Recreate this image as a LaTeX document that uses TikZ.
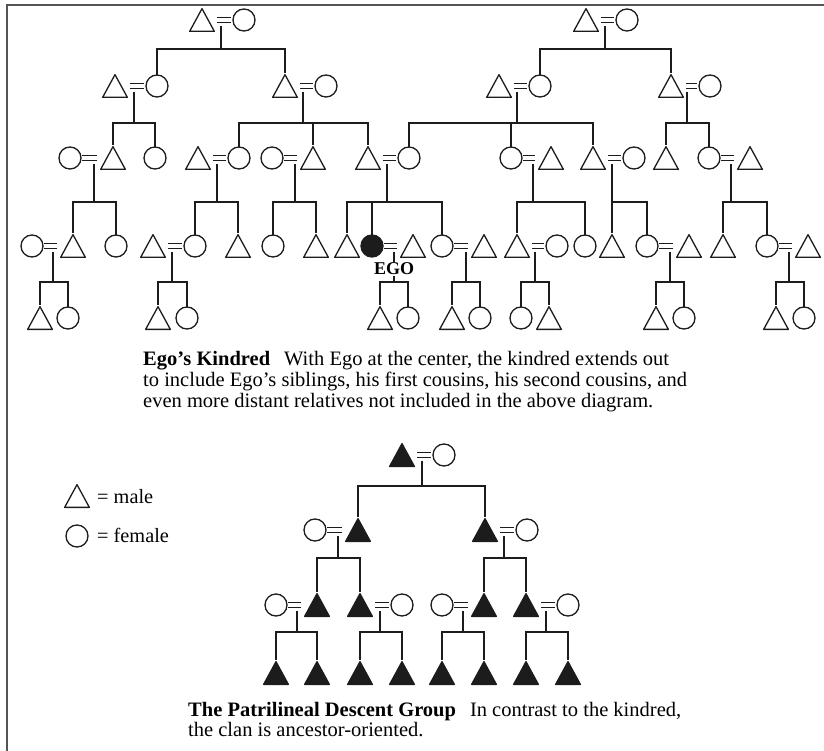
\documentclass[tikz,border=0pt]{standalone}
\usepackage{fontspec}
\setmainfont{Liberation Serif}
\usetikzlibrary{calc}
\definecolor{ink}{HTML}{1C1C1C}
\definecolor{rule}{HTML}{555555}
\newcommand\wed[2]{%
  \draw[wedline] ([yshift=2.1pt]#1.east) -- ([yshift=2.1pt]#2.west);
  \draw[wedline] ([yshift=-2.1pt]#1.east) -- ([yshift=-2.1pt]#2.west);}
\begin{document}
\begin{tikzpicture}[x=1pt,y=-1pt,
  kinline/.style={draw=ink, line width=1.25pt},
  wedline/.style={draw=ink, line width=1.15pt, shorten <=1pt, shorten >=2pt},
  fem/.style={circle, draw=ink, line width=1.3pt, minimum size=22pt, inner sep=0pt, outer sep=0pt},
  femx/.style={fem, fill=ink},
  mal/.style={rectangle, minimum width=28pt, minimum height=26pt, inner sep=0pt, outer sep=0pt,
    path picture={\draw[draw=ink, line width=1.3pt, line join=round]
      ([xshift=1.65pt,yshift=1.65pt]path picture bounding box.south west) --
      ([yshift=-1.65pt]path picture bounding box.north) --
      ([xshift=-1.65pt,yshift=1.65pt]path picture bounding box.south east) -- cycle;}},
  malx/.style={rectangle, minimum width=28pt, minimum height=26pt, inner sep=0pt, outer sep=0pt,
    path picture={\draw[draw=ink, fill=ink, line width=1.3pt, line join=round]
      ([xshift=1.65pt,yshift=1.65pt]path picture bounding box.south west) --
      ([yshift=-1.65pt]path picture bounding box.north) --
      ([xshift=-1.65pt,yshift=1.65pt]path picture bounding box.south east) -- cycle;}},
  captext/.style={inner sep=0pt, anchor=base west, font=\fontsize{20.5}{21}\selectfont},
  legtext/.style={inner sep=0pt, anchor=base west, font=\fontsize{20.3}{21}\selectfont},
]
\useasboundingbox (0,0) rectangle (824,751);
% frame
\draw[rule, line width=2pt] (6.5,751) -- (6.5,5.5) -- (824,5.5);

% ---------------- kindred: generation 1
\node[mal] (a1) at (202,20) {};  \node[fem] (a2) at (244,20) {};
\node[mal] (b1) at (586,20) {};  \node[fem] (b2) at (627,20) {};
% generation 2
\node[mal] (c1) at (115,86) {};  \node[fem] (c2) at (157,86) {};
\node[mal] (d1) at (285,86) {};  \node[fem] (d2) at (326,86) {};
\node[mal] (e1) at (499,86) {};  \node[fem] (e2) at (540,86) {};
\node[mal] (f1) at (671,86) {};  \node[fem] (f2) at (710,86) {};
% generation 3
\node[fem] (g1) at (70,158) {};  \node[mal] (g2) at (113,158) {};
\node[fem] (g3) at (155,158) {};
\node[mal] (h1) at (198,158) {}; \node[fem] (h2) at (239,158) {};
\node[fem] (i1) at (272,158) {}; \node[mal] (i2) at (313,158) {};
\node[mal] (k1) at (368,158) {}; \node[fem] (k2) at (409,158) {};
\node[fem] (l1) at (511,158) {}; \node[mal] (l2) at (551,158) {};
\node[mal] (m1) at (593,158) {}; \node[fem] (m2) at (634,158) {};
\node[mal] (m3) at (666,158) {};
\node[fem] (n1) at (709,158) {}; \node[mal] (n2) at (750,158) {};
% generation 4 (Ego's)
\node[fem] (p1) at (32,246) {};   \node[mal] (p2) at (73,246) {};
\node[fem] (p3) at (116,246) {};
\node[mal] (p4) at (153,246) {};  \node[fem] (p5) at (195,246) {};
\node[mal] (p6) at (238,246) {};
\node[fem] (p7) at (273,246) {};
\node[mal] (p8) at (316,246) {};
\node[mal] (p9) at (347,246) {};
\node[femx] (p10) at (372,246) {}; \node[mal] (p11) at (413,246) {};
\node[fem] (p12) at (442,246) {}; \node[mal] (p13) at (484,246) {};
\node[mal] (p14) at (517,246) {}; \node[fem] (p15) at (557,246) {};
\node[fem] (p16) at (585,246) {};
\node[mal] (p17) at (612,246) {};
\node[fem] (p18) at (647,246) {}; \node[mal] (p19) at (689,246) {};
\node[mal] (p20) at (723,246) {};
\node[fem] (p21) at (767,246) {}; \node[mal] (p22) at (808,246) {};
% generation 5
\node[mal] (s1) at (40,318) {};   \node[fem] (s2) at (68,318) {};
\node[mal] (s3) at (158,318) {};  \node[fem] (s4) at (187,318) {};
\node[mal] (s5) at (380,318) {};  \node[fem] (s6) at (408,318) {};
\node[mal] (s7) at (452,318) {};  \node[fem] (s8) at (480,318) {};
\node[fem] (s9) at (521,318) {};  \node[mal] (s10) at (549,318) {};
\node[mal] (s11) at (656,318) {}; \node[fem] (s12) at (684,318) {};
\node[mal] (s13) at (776,318) {}; \node[fem] (s14) at (804,318) {};

% marriages
\wed{a1}{a2} \wed{b1}{b2}
\wed{c1}{c2} \wed{d1}{d2} \wed{e1}{e2} \wed{f1}{f2}
\wed{g1}{g2} \wed{h1}{h2} \wed{i1}{i2} \wed{k1}{k2} \wed{l1}{l2} \wed{m1}{m2} \wed{n1}{n2}
\wed{p1}{p2} \wed{p4}{p5} \wed{p10}{p11} \wed{p12}{p13} \wed{p14}{p15} \wed{p18}{p19} \wed{p21}{p22}

% descent junctions
\coordinate (ja) at (221,49);  \coordinate (jb) at (605,49);
\coordinate (jc) at (134,123); \coordinate (jd) at (303,123);
\coordinate (je) at (517,123); \coordinate (jf) at (687,123);
\coordinate (jg) at (94,202);  \coordinate (jh) at (217,202);
\coordinate (ji) at (295,202); \coordinate (jk) at (387,202);
\coordinate (jl) at (533,202); \coordinate (jm) at (612,202);
\coordinate (jn) at (731,202);
\coordinate (jp) at (53,282);  \coordinate (jq) at (172,282);
\coordinate (jr) at (394,282); \coordinate (js) at (466,282);
\coordinate (jt) at (535,282); \coordinate (ju) at (670,282);
\coordinate (jv) at (789,282);

% drops from each couple
\foreach \j/\c in {ja/a1, jb/b1, jc/c1, jd/d1, je/e1, jf/f1, jg/g1, jh/h1, ji/i1,
                   jk/k1, jl/l1, jm/m1, jn/n1, jp/p1, jq/p4, jr/p10, js/p12,
                   jt/p14, ju/p18, jv/p21}
  \draw[kinline] (\j |- \c) ++(0,6) -- (\j);

% sibling bars
\draw[kinline] (c2.north) |- (ja) -| (d1.north);
\draw[kinline] (e2.north) |- (jb) -| (f1.north);
\draw[kinline] (g2.north) |- (jc) -| (g3.north);
\draw[kinline] (h2.north) |- (jd) -| (k1.north);
\draw[kinline] (i2.north) -- (i2.north |- jd);
\draw[kinline] (k2.north) |- (je) -| (m1.north);
\draw[kinline] (l1.north) -- (l1.north |- je);
\draw[kinline] (m3.north) |- (jf) -| (n1.north);
\draw[kinline] (p2.north) |- (jg) -| (p3.north);
\draw[kinline] (p5.north) |- (jh) -| (p6.north);
\draw[kinline] (p7.north) |- (ji) -| (p8.north);
\draw[kinline] (p9.north) |- (jk) -| (p12.north);
\draw[kinline] (p10.north) -- (p10.north |- jk);
\draw[kinline] (p14.north) |- (jl) -| (p16.north);
\draw[kinline] (p17.north) |- (jm) -| (p18.north);
\draw[kinline] (p20.north) |- (jn) -| (p21.north);
\draw[kinline] (s1.north) |- (jp) -| (s2.north);
\draw[kinline] (s3.north) |- (jq) -| (s4.north);
\draw[kinline] (s5.north) |- (jr) -| (s6.north);
\draw[kinline] (s7.north) |- (js) -| (s8.north);
\draw[kinline] (s9.north) |- (jt) -| (s10.north);
\draw[kinline] (s11.north) |- (ju) -| (s12.north);
\draw[kinline] (s13.north) |- (jv) -| (s14.north);

\node[fill=white, inner sep=0.6pt, font=\bfseries\fontsize{18}{18}\selectfont] (ego) at (394,269) {EGO};

% caption of the kindred
\node[captext] (k1t) at (143,365) {\textbf{Ego’s Kindred}\hspace{14pt}With Ego at the center, the kindred extends out};
\node[captext] (k2t) at (143,386) {to include Ego’s siblings, his first cousins, his second cousins, and};
\node[captext] (k3t) at (143,407) {even more distant relatives not included in the above diagram.};

% legend
\node[mal] (lm) at (77,496) {};
\node[fem] (lf) at (77,536) {};
\node[legtext] (lmt) at (97,503) {= male};
\node[legtext] (lft) at (97,542) {= female};

% ---------------- patrilineal descent group
\node[malx] (pa1) at (402,455) {}; \node[fem] (pa2) at (444,455) {};
\node[fem] (pb1) at (315,530) {}; \node[malx] (pb2) at (358,530) {};
\node[malx] (pb3) at (485,530) {}; \node[fem] (pb4) at (527,530) {};
\node[fem] (pc1) at (276,605) {}; \node[malx] (pc2) at (317,605) {};
\node[malx] (pc3) at (360,605) {}; \node[fem] (pc4) at (402,605) {};
\node[fem] (pc5) at (442,605) {}; \node[malx] (pc6) at (484,605) {};
\node[malx] (pc7) at (526,605) {}; \node[fem] (pc8) at (568,605) {};
\foreach \n/\x in {1/276,2/317,3/360,4/402,5/442,6/484,7/526,8/568}
  \node[malx] (pd\n) at (\x,673) {};

\wed{pa1}{pa2}
\wed{pb1}{pb2} \wed{pb3}{pb4}
\wed{pc1}{pc2} \wed{pc3}{pc4} \wed{pc5}{pc6} \wed{pc7}{pc8}

\coordinate (qa) at (422,486);
\coordinate (qb) at (338,558); \coordinate (qc) at (504,558);
\coordinate (qd) at (297,632); \coordinate (qe) at (380,632);
\coordinate (qf) at (463,632); \coordinate (qg) at (546,632);
\foreach \j/\c in {qa/pa1, qb/pb1, qc/pb3, qd/pc1, qe/pc3, qf/pc5, qg/pc7}
  \draw[kinline] (\j |- \c) ++(0,6) -- (\j);

\draw[kinline] (pb2.north) |- (qa) -| (pb3.north);
\draw[kinline] (pc2.north) |- (qb) -| (pc3.north);
\draw[kinline] (pc6.north) |- (qc) -| (pc7.north);
\draw[kinline] (pd1.north) |- (qd) -| (pd2.north);
\draw[kinline] (pd3.north) |- (qe) -| (pd4.north);
\draw[kinline] (pd5.north) |- (qf) -| (pd6.north);
\draw[kinline] (pd7.north) |- (qg) -| (pd8.north);

\node[captext] (c1t) at (188,716) {\textbf{The Patrilineal Descent Group}\hspace{14pt}In contrast to the kindred,};
\node[captext] (c2t) at (188,736) {the clan is ancestor-oriented.};
\end{tikzpicture}
\end{document}
